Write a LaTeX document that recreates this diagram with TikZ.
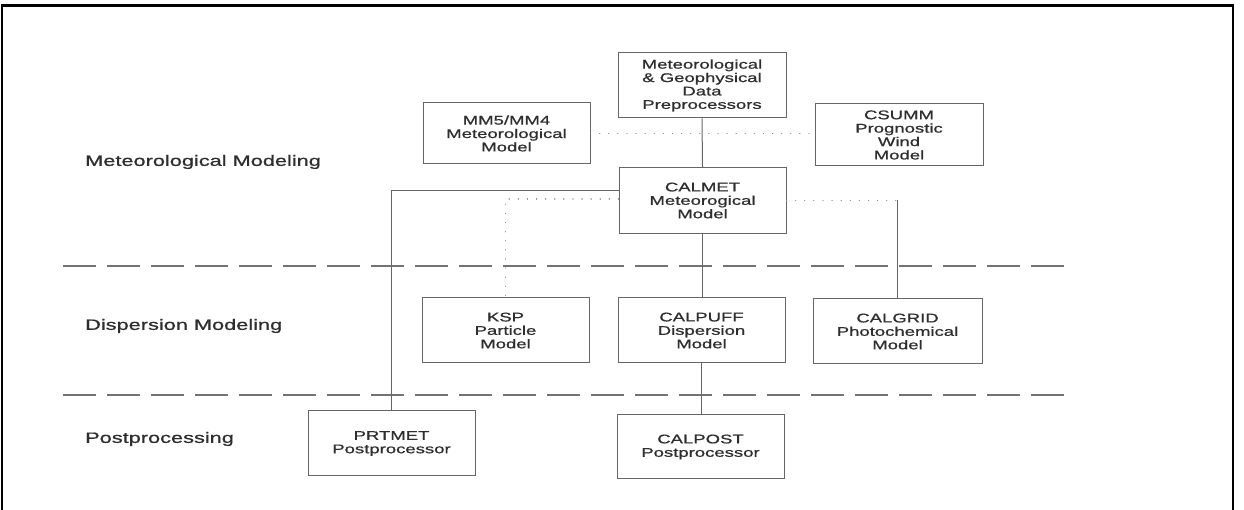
\documentclass[tikz,border=0pt]{standalone}
\usepackage{fontspec}
\setmainfont{Liberation Sans}[FakeStretch=1.45, FakeBold=0.8]
\newfontfamily\boxfont{Liberation Sans}[FakeStretch=1.47, FakeBold=0.8]
\begin{document}
\begin{tikzpicture}[x=1pt,y=1pt,
  txt/.style={text=black!82},
  mbox/.style={draw=black!60, line width=1pt, inner sep=0pt, align=center,
    minimum width=167pt, minimum height=65pt, txt,
    font=\boxfont\fontsize{12.6}{13.4}\selectfont},
  lvl/.style={anchor=west, inner sep=0pt, txt, font=\fontsize{15}{18}\selectfont},
  link/.style={draw=black!60, line width=1pt},
  dotlink/.style={draw=black!45, line width=1.3pt, line cap=round, dash pattern=on 0.1pt off 9pt},
  sep/.style={draw=black!55, line width=1.5pt, dash pattern=on 33pt off 11pt},
  frame/.style={draw=black, line width=2.5pt}
]
\useasboundingbox (0,0) rectangle (1244,510);
\fill[white] (0,0) rectangle (1244,510);
% outer frame (bottom edge cut off)
\draw[frame] (2,0) -- (2,504.5) -- (1233,504.5) -- (1233,0);

% level labels
\node[lvl] (lmet) at (85,348) {Meteorological Modeling};
\node[lvl] (ldisp) at (85,184) {Dispersion Modeling};
\node[lvl] (lpost) at (85,71) {Postprocessing};

% separators
\coordinate (s1a) at (63,244);
\coordinate (s1b) at (1068,244);
\coordinate (s2a) at (63,115);
\coordinate (s2b) at (1068,115);
\draw[sep] (s1a) -- (s1b);
\draw[sep] (s2a) -- (s2b);

% boxes
\node[mbox, minimum width=168pt] (geo) at (702,424.5) {Meteorological\\\& Geophysical\\Data\\Preprocessors};
\node[mbox, minimum height=61pt] (mm5) at (506.5,376.5) {MM5/MM4\\Meteorological\\Model};
\node[mbox, minimum width=168pt, minimum height=62pt] (csumm) at (899,375) {CSUMM\\Prognostic\\Wind\\Model};
\node[mbox, minimum height=66pt] (calmet) at (702.5,309.5) {CALMET\\Meteorogical\\Model};
\node[mbox] (ksp) at (505.5,179.5) {KSP\\Particle\\Model};
\node[mbox] (calpuff) at (701.5,179.5) {CALPUFF\\Dispersion\\Model};
\node[mbox, minimum width=169pt] (calgrid) at (897.5,178.5) {CALGRID\\Photochemical\\Model};
\node[mbox] (prtmet) at (391.5,66.5) {PRTMET\\Postprocessor};
\node[mbox, minimum height=64pt] (calpost) at (700.5,63) {CALPOST\\Postprocessor};

% connectors
\draw[link] (geo.south) -- (calmet.north);
\draw[dotlink] (mm5.east) -- (mm5.east -| csumm.west);
\draw[link] ([yshift=9.8pt]calmet.west) -| (prtmet.north);
\draw[dotlink] ([yshift=1.5pt]calmet.west) -| (ksp.north);
\coordinate (cgc) at (calgrid.north |- calmet.east);
\draw[dotlink] (calmet.east) -- (cgc);
\draw[link] (cgc) -- (calgrid.north);
\draw[link] (calmet.south) -- (calmet.south |- calpuff.north);
\draw[link] (calpuff.south) -- (calpuff.south |- calpost.north);
\end{tikzpicture}
\end{document}
